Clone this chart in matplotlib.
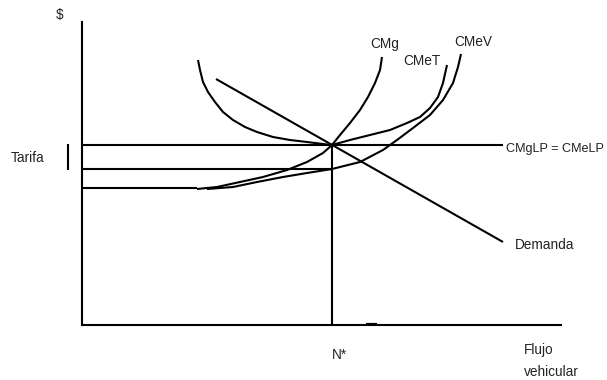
"""
Peak-load pricing diagram: short-run cost curves of a road vs. demand.
"""

import matplotlib.pyplot as plt

# --- data (in axis units: x = flow, y = $) ---
n_star = 250          # optimal vehicular flow N*
tarifa = 180          # toll level = CMgLP = CMeLP
cmev_at_nstar = 156   # average variable cost at N*
cmev_start = 137      # level where the short-run curves begin
curve_start_x = 115
lp_line_end = 421
axis_top = 303
axis_right = 479

demand_x = [134, 421]
demand_y = [246, 83]

cmet_x = [116, 118, 121, 126, 133, 141, 151, 163, 175, 191, 208, 225, 241, 250,
          268, 288, 308, 325, 338, 348, 356, 361, 365]
cmet_y = [265, 255, 243, 233, 223, 213, 205, 198, 193, 188, 185, 183, 181, 180,
          185, 190, 195, 202, 208, 217, 228, 242, 260]

cmg_x = [115, 135, 158, 181, 205, 225, 241, 250, 258, 268, 278, 286, 293, 298, 300]
cmg_y = [136, 138, 143, 148, 155, 163, 172, 180, 190, 202, 215, 228, 242, 255, 268]

cmev_x = [125, 151, 175, 201, 225, 250, 278, 301, 315, 331, 348, 361, 371, 376, 379]
cmev_y = [136, 138, 143, 148, 152, 156, 163, 175, 185, 197, 210, 225, 242, 258, 271]

mark_x = [284, 295]   # small dash on the flow axis

# --- figure ---
fig = plt.figure(figsize=(6.07, 3.80), dpi=100)
ax = fig.add_axes([82 / 607, 55 / 380, 479 / 607, 303 / 380])
ax.set_xlim(0, axis_right)
ax.set_ylim(0, axis_top)

for side in ('top', 'right'):
    ax.spines[side].set_visible(False)
for side in ('left', 'bottom'):
    ax.spines[side].set_linewidth(1.5)
ax.set_xticks([])
ax.set_yticks([])

lw = 1.5
kw = dict(color='black', linewidth=lw, solid_capstyle='butt', solid_joinstyle='round')

# horizontal reference lines
ax.plot([0, lp_line_end], [tarifa, tarifa], **kw)
ax.plot([0, n_star], [cmev_at_nstar, cmev_at_nstar], **kw)
ax.plot([0, curve_start_x], [cmev_start, cmev_start], **kw)

# vertical at N*
ax.plot([n_star, n_star], [0, tarifa], **kw)

# demand
ax.plot(demand_x, demand_y, **kw)

# short-run cost curves
ax.plot(cmet_x, cmet_y, **kw)
ax.plot(cmg_x, cmg_y, **kw)
ax.plot(cmev_x, cmev_y, **kw)

# tick next to "Tarifa" and small dash on the x axis
ax.plot([-14, -14], [tarifa + 1, cmev_at_nstar - 1], clip_on=False, **kw)
ax.plot(mark_x, [0, 0], color='black', linewidth=3, solid_capstyle='butt')

# --- labels ---
tkw = dict(fontsize=9.8, color='#222222', family=['Liberation Sans', 'DejaVu Sans'],
           va='center')
ax.text(-22, 310, '$', ha='center', **tkw)
ax.text(-71, 167, 'Tarifa', ha='left', **tkw)
ax.text(288, 281, 'CMg', ha='left', **tkw)
ax.text(321, 264, 'CMeT', ha='left', **tkw)
ax.text(372, 283, 'CMeV', ha='left', **tkw)
ax.text(424, 176, 'CMgLP = CMeLP', ha='left', **dict(tkw, fontsize=9.1))
ax.text(433, 80, 'Demanda', ha='left', **tkw)
ax.text(250, -30, 'N*', ha='left', **tkw)
ax.text(442, -25, 'Flujo', ha='left', **tkw)
ax.text(442, -47, 'vehicular', ha='left', **tkw)

fig.savefig('out.png', dpi=100)
